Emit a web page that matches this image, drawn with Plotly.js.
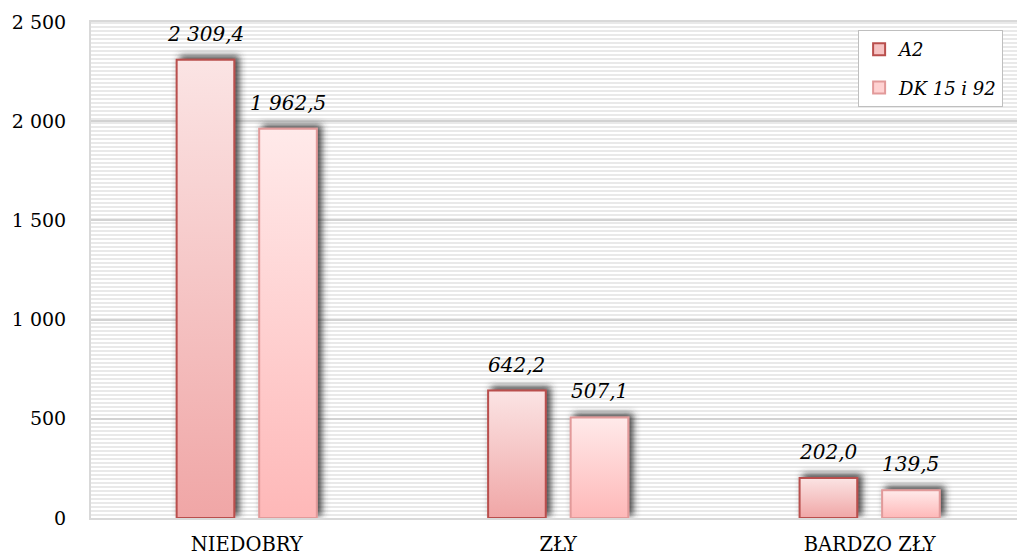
<!DOCTYPE html>
<html>
<head>
<meta charset="utf-8">
<script src="https://cdn.plot.ly/plotly-3.0.1.min.js"></script>
<style>
  html, body { margin: 0; padding: 0; background: #ffffff; }
  #chart { width: 1017px; height: 558px; }
  .barlayer .trace:nth-child(1) .point path { fill: url(#gA2) !important; filter: url(#sh); }
  .barlayer .trace:nth-child(2) .point path { fill: url(#gDK) !important; filter: url(#sh); }
</style>
</head>
<body>
<svg width="0" height="0" style="position:absolute">
  <defs>
    <linearGradient id="gA2" x1="0" y1="0" x2="0" y2="1">
      <stop offset="0" stop-color="#fbe4e4"/>
      <stop offset="1" stop-color="#f0a6a6"/>
    </linearGradient>
    <linearGradient id="gDK" x1="0" y1="0" x2="0" y2="1">
      <stop offset="0" stop-color="#ffeaea"/>
      <stop offset="1" stop-color="#feb8b8"/>
    </linearGradient>
    <filter id="sh" x="-50%" y="-50%" width="200%" height="200%">
      <feDropShadow dx="4" dy="-3" stdDeviation="3.5" flood-color="#333" flood-opacity="0.9"/>
    </filter>
  </defs>
</svg>
<div id="chart"></div>
<script>
const categories = ['NIEDOBRY', 'ZŁY', 'BARDZO ZŁY'];
const seriesNames = ['A2', 'DK 15 i 92'];
const valuesA2 = [2309.4, 642.2, 202.0];
const valuesDK = [1962.5, 507.1, 139.5];
const yTicks = [0, 500, 1000, 1500, 2000, 2500];

function fmt(v) {
  const parts = v.toFixed(1).split('.');
  return parts[0].replace(/\B(?=(\d{3})+(?!\d))/g, ' ') + ',' + parts[1];
}

const barW = 0.185;
const offA2 = -0.225;
const offDK = 0.04;

const traces = [
  {
    type: 'bar', name: seriesNames[0], x: categories, y: valuesA2,
    width: barW, offset: offA2, legendgroup: 'a',
    marker: { color: '#f6c3c3', line: { color: '#b94f4d', width: 2 } },
    hoverinfo: 'none'
  },
  {
    type: 'bar', name: seriesNames[1], x: categories, y: valuesDK,
    width: barW, offset: offDK, legendgroup: 'b',
    marker: { color: '#ffd2d2', line: { color: '#e29a9a', width: 2 } },
    hoverinfo: 'none'
  }
];

const annotations = [];
const labelFont = { family: 'DejaVu Serif', size: 20, color: '#000', style: 'italic' };
[[valuesA2, offA2], [valuesDK, offDK]].forEach(([vals, off]) => {
  vals.forEach((v, i) => {
    annotations.push({
      x: i + off + barW / 2, y: v, xref: 'x', yref: 'y',
      text: fmt(v), showarrow: false, yanchor: 'bottom', yshift: 12,
      font: labelFont
    });
  });
});

const stripeSvg = "<svg xmlns='http://www.w3.org/2000/svg' width='926' height='496'>" +
  "<defs><pattern id='p' width='8' height='4' patternUnits='userSpaceOnUse'>" +
  "<rect width='8' height='2' fill='#e9e9e9'/></pattern></defs>" +
  "<rect width='926' height='496' fill='#ffffff'/>" +
  "<rect width='926' height='496' fill='url(#p)'/></svg>";

const layout = {
  width: 1017, height: 558,
  margin: { l: 91, r: 0, t: 22, b: 40 },
  paper_bgcolor: '#ffffff',
  plot_bgcolor: 'rgba(0,0,0,0)',
  separators: ', ',
  barmode: 'group',
  showlegend: true,
  font: { family: 'DejaVu Serif', size: 18, color: '#000' },
  images: [{
    source: 'data:image/svg+xml;charset=utf-8,' + encodeURIComponent(stripeSvg),
    xref: 'paper', yref: 'paper', x: 0, y: 1, sizex: 1, sizey: 1,
    sizing: 'stretch', xanchor: 'left', yanchor: 'top', layer: 'below'
  }],
  xaxis: {
    type: 'category', range: [-0.5, 2.473],
    showgrid: false, zeroline: false,
    showline: true, mirror: true, linecolor: '#d9d9d9', linewidth: 2,
    ticks: 'outside', ticklen: 8, tickcolor: 'rgba(0,0,0,0)',
    tickfont: { family: 'DejaVu Serif', size: 19.5, color: '#000' }
  },
  yaxis: {
    range: [0, 2500], tickvals: yTicks, tickformat: ',',
    showgrid: true, gridcolor: '#d2d2d2', gridwidth: 2,
    zeroline: false,
    showline: true, mirror: true, linecolor: '#d9d9d9', linewidth: 2,
    ticks: 'outside', ticklen: 19, tickcolor: 'rgba(0,0,0,0)',
    tickfont: { family: 'DejaVu Serif', size: 19, color: '#000' }
  },
  legend: {
    x: 0.985, y: 0.984, xanchor: 'right', yanchor: 'top',
    bgcolor: '#ffffff', bordercolor: '#bfbfbf', borderwidth: 1,
    traceorder: 'grouped', tracegroupgap: 12,
    font: { family: 'DejaVu Serif', size: 18, color: '#000', style: 'italic' }
  },
  annotations: annotations
};

Plotly.newPlot('chart', traces, layout, { displayModeBar: false, staticPlot: true });
</script>
</body>
</html>
